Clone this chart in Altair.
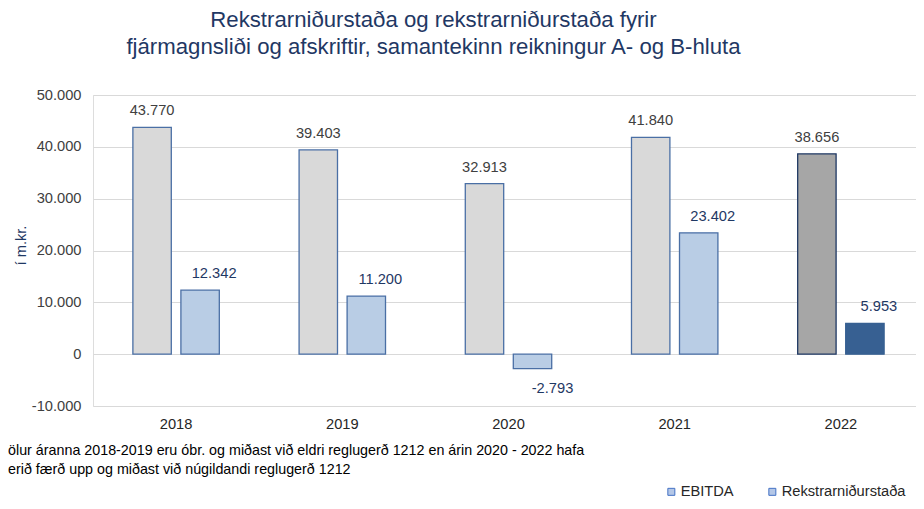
import altair as alt
import pandas as pd

years = ["2018", "2019", "2020", "2021", "2022"]
series = ["EBITDA", "Rekstrarniðurstaða"]
ebitda = [43770, 39403, 32913, 41840, 38656]
rekstur = [12342, 11200, -2793, 23402, 5953]

title_lines = [
    "Rekstrarniðurstaða og rekstrarniðurstaða fyrir",
    "fjármagnsliði og afskriftir, samantekinn reikningur A- og B-hluta",
]
note_lines = [
    "ölur áranna 2018-2019 eru óbr. og miðast við eldri reglugerð 1212 en árin 2020 - 2022 hafa",
    "erið færð upp og miðast við núgildandi reglugerð 1212",
]

keys = ["EBITDA", "Rekstrar", "EBITDA 2022", "Rekstrar 2022"]
fill_colors = ["#D9D9D9", "#B9CDE5", "#A6A6A6", "#376092"]
stroke_colors = ["#4A6FA5", "#4A6FA5", "#1F3864", "#376092"]


def fmt(v):
    return f"{v:,}".replace(",", ".")


rows = []
for i, y in enumerate(years):
    last = y == years[-1]
    rows.append({"year": y, "series": series[0], "value": ebitda[i],
                 "key": "EBITDA 2022" if last else "EBITDA", "label": fmt(ebitda[i])})
    rows.append({"year": y, "series": series[1], "value": rekstur[i],
                 "key": "Rekstrar 2022" if last else "Rekstrar", "label": fmt(rekstur[i])})
df = pd.DataFrame(rows)

FONT = "Liberation Sans"
FS = 14.67

x_enc = alt.X("year:N", sort=years,
              scale=alt.Scale(paddingInner=0.48, paddingOuter=0.24),
              axis=alt.Axis(title=None, labelAngle=0, domain=False, ticks=False,
                            labelPadding=10, labelFontSize=FS, labelFont=FONT,
                            labelColor="#262626", grid=False))
xoff = alt.XOffset("series:N", sort=series,
                   scale=alt.Scale(paddingInner=0.2, paddingOuter=0))
y_enc = alt.Y("value:Q",
              scale=alt.Scale(domain=[-10000, 50000], nice=False, zero=True),
              axis=alt.Axis(values=list(range(-10000, 50001, 10000)),
                            labelExpr="(datum.value < 0 ? '-' : '') + replace(format(abs(datum.value), ','), ',', '.')",
                            grid=True, gridColor="#D9D9D9", gridWidth=1,
                            domain=False, ticks=False, labelPadding=12,
                            labelFontSize=FS, labelFont=FONT, labelColor="#404040",
                            title="í m.kr.", titleColor="#1F3864", titleFont=FONT,
                            titleFontSize=FS, titleFontWeight="normal",
                            titleX=-65, titleY=150))

base = alt.Chart(df)

bars = base.mark_bar(strokeWidth=1.3).encode(
    x=x_enc, xOffset=xoff, y=y_enc,
    fill=alt.Fill("key:N", scale=alt.Scale(domain=keys, range=fill_colors), legend=None),
    stroke=alt.Stroke("key:N", scale=alt.Scale(domain=keys, range=stroke_colors), legend=None),
)

lbl_e = base.mark_text(font=FONT, fontSize=FS, color="#404040", baseline="bottom", dy=-9).encode(
    x=x_enc, xOffset=xoff, y=y_enc, text="label:N"
).transform_filter(alt.datum.series == series[0])

lbl_rp = base.mark_text(font=FONT, fontSize=FS, color="#1F3864", baseline="bottom", dy=-9, dx=14).encode(
    x=x_enc, xOffset=xoff, y=y_enc, text="label:N"
).transform_filter((alt.datum.series == series[1]) & (alt.datum.value >= 0))

lbl_rn = base.mark_text(font=FONT, fontSize=FS, color="#1F3864", baseline="top", dy=12, dx=20).encode(
    x=x_enc, xOffset=xoff, y=y_enc, text="label:N"
).transform_filter((alt.datum.series == series[1]) & (alt.datum.value < 0))

legend_layer = base.mark_point(shape="square", filled=True, size=0, opacity=0).encode(
    x=x_enc, y=y_enc,
    color=alt.Color("series:N", sort=series,
                    scale=alt.Scale(domain=series, range=["#B4C7E7", "#B4C7E7"]),
                    legend=alt.Legend(title=None, orient="none", legendX=571, legendY=389,
                                      direction="horizontal", symbolType="square",
                                      symbolSize=49, symbolOpacity=1,
                                      symbolStrokeColor="#4472C4", symbolStrokeWidth=1,
                                      labelFont=FONT, labelFontSize=FS, labelColor="#262626",
                                      labelOffset=2, columnPadding=31)),
)

note = alt.Chart(alt.Data(values=[{}])).mark_text(
    text=note_lines, font=FONT, fontSize=14.3, lineHeight=19, align="left",
    baseline="middle", color="#000000"
).encode(x=alt.value(-85), y=alt.value(356))

chart = alt.layer(bars, lbl_e, lbl_rp, lbl_rn, legend_layer, note).properties(
    width=831, height=311,
    autosize=alt.AutoSizeParams(type="none"),
    padding={"left": 85, "top": 87, "right": -8, "bottom": 94},
    title=alt.Title(text=title_lines, anchor="middle", dx=-75, offset=29,
                    font=FONT, fontSize=22.2, fontWeight="normal",
                    color="#1F3864", lineHeight=27),
).configure_view(stroke=None).configure(background="white")

chart.save("out.html", embed_options={"renderer": "svg", "actions": False})
